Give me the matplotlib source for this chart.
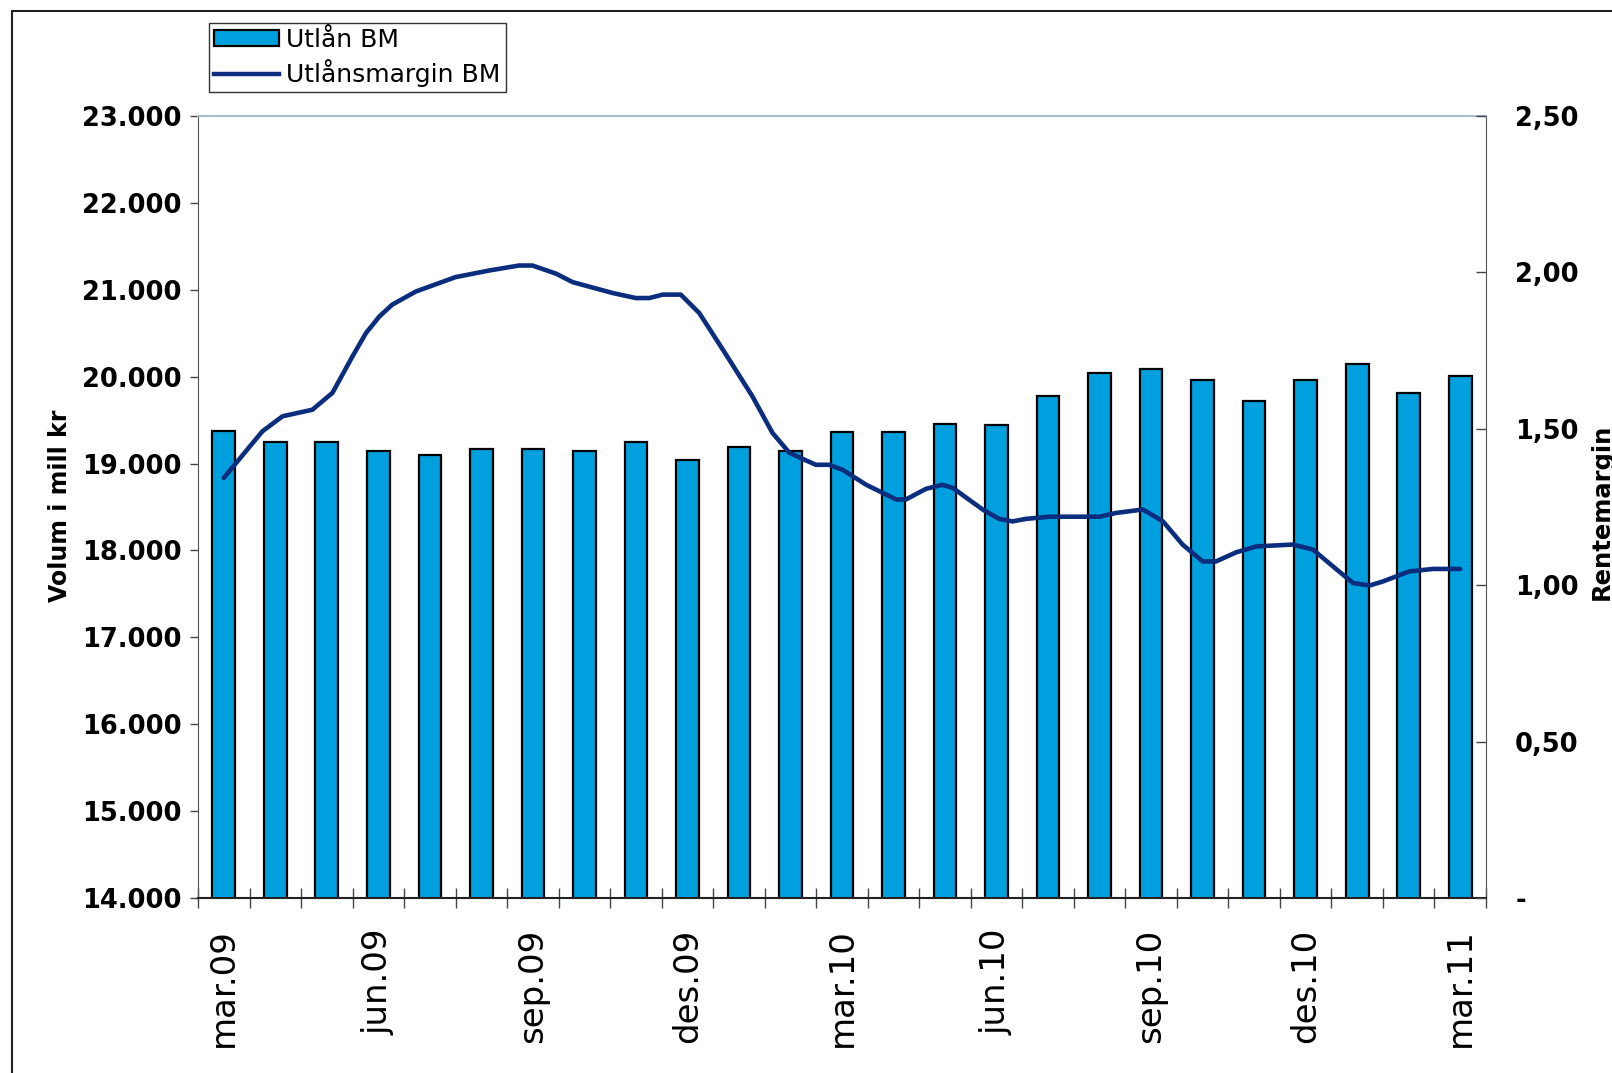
import matplotlib
matplotlib.use("Agg")
import matplotlib.pyplot as plt
import numpy as np
from matplotlib.patches import Rectangle
from matplotlib.lines import Line2D

months = ["mar.09", "apr.09", "mai.09", "jun.09", "jul.09", "aug.09", "sep.09", "okt.09",
          "nov.09", "des.09", "jan.10", "feb.10", "mar.10", "apr.10", "mai.10", "jun.10",
          "jul.10", "aug.10", "sep.10", "okt.10", "nov.10", "des.10", "jan.11", "feb.11", "mar.11"]
utlan = [19380, 19250, 19250, 19150, 19100, 19170, 19170, 19150, 19250, 19040, 19190, 19150,
         19360, 19360, 19460, 19440, 19780, 20040, 20090, 19960, 19720, 19960, 20150, 19810, 20010]
# margin series (position in months from mar.09, value)
margin_pos = [0.00, 0.75, 1.14, 1.72, 2.11, 2.50, 2.76, 3.02, 3.27, 3.73, 4.50, 5.15, 5.73,
              5.99, 6.45, 6.77, 7.55, 8.00, 8.26, 8.52, 8.87, 9.23, 9.75, 10.26, 10.65,
              10.98, 11.49, 11.75, 12.01, 12.47, 13.05, 13.24, 13.63, 13.95, 14.15, 14.73,
              15.05, 15.31, 15.57, 16.03, 17.00, 17.32, 17.84, 18.23, 18.61, 19.00, 19.26,
              19.65, 20.04, 20.75, 21.14, 21.53, 21.92, 22.24, 22.50, 23.01, 23.47, 24.00]
margin = [1.343, 1.492, 1.540, 1.561, 1.615, 1.732, 1.806, 1.859, 1.897, 1.939, 1.985, 2.006,
          2.022, 2.022, 1.996, 1.969, 1.934, 1.918, 1.918, 1.929, 1.929, 1.870, 1.737, 1.604,
          1.487, 1.423, 1.385, 1.385, 1.369, 1.321, 1.274, 1.274, 1.308, 1.321, 1.311, 1.242,
          1.212, 1.204, 1.212, 1.219, 1.219, 1.231, 1.242, 1.204, 1.130, 1.076, 1.076, 1.105,
          1.124, 1.130, 1.114, 1.060, 1.007, 0.999, 1.012, 1.044, 1.052, 1.052]
left_ticks = [14000, 15000, 16000, 17000, 18000, 19000, 20000, 21000, 22000, 23000]
left_labels = ["14.000", "15.000", "16.000", "17.000", "18.000", "19.000", "20.000",
               "21.000", "22.000", "23.000"]
right_ticks = [0, 0.5, 1.0, 1.5, 2.0, 2.5]
right_labels = ["-", "0,50", "1,00", "1,50", "2,00", "2,50"]

W, H = 1612, 1073
fig = plt.figure(figsize=(W / 100, H / 100), dpi=100)
L, R, T, B = 198, 1486, 116, 898
ax = fig.add_axes([L / W, 1 - B / H, (R - L) / W, (B - T) / H])
ax2 = ax.twinx()

x = np.arange(len(months))
bar_color = "#00A0DE"
line_color = "#0B2D7E"
ax.bar(x, utlan, width=0.44, color=bar_color, edgecolor="black", linewidth=1.6, zorder=2)
ax.set_xlim(-0.5, len(months) - 0.5)
ax.set_ylim(14000, 23000)
ax.set_yticks(left_ticks)
ax.set_yticklabels(left_labels, fontsize=18.5, fontweight="bold", family="DejaVu Sans")
ax.tick_params(axis="y", direction="out", length=6, width=1, color="#444444", pad=6)

# x ticks at category boundaries, labels every 3rd month
ax.set_xticks(np.arange(-0.5, len(months), 1.0))
ax.set_xticklabels([])
ax.tick_params(axis="x", which="major", direction="inout", length=14, width=1, color="#444444")
ax.set_xticks(x[::3], minor=True)
ax.set_xticklabels([months[i] for i in x[::3]], minor=True, rotation=90, fontsize=24.5,
                   family="DejaVu Sans")
ax.tick_params(axis="x", which="minor", length=0, pad=22)

ax.spines["top"].set_color("#A8BCC8")
ax.spines["top"].set_linewidth(1.5)
ax.spines["left"].set_color("#555555")
ax.spines["right"].set_color("#555555")
ax.spines["bottom"].set_color("#222222")
ax.spines["bottom"].set_linewidth(1.5)

ax2.plot(margin_pos, margin, color=line_color, linewidth=3.3, zorder=5,
         solid_joinstyle="round", solid_capstyle="round")
ax2.set_ylim(0, 2.5)
ax2.set_yticks(right_ticks)
ax2.set_yticklabels(right_labels, fontsize=18.5, fontweight="bold", family="DejaVu Sans")
ax2.tick_params(axis="y", direction="in", length=7, width=1, color="#444444", pad=21)
for s in ax2.spines.values():
    s.set_visible(False)

fig.text(60 / W, 1 - 506 / H, "Volum i mill kr", rotation=90, ha="center", va="center",
         fontsize=17, fontweight="bold", family="DejaVu Sans")
fig.text(1590 / W, 1 - 512 / H, "Rentemargin", rotation=90, ha="left", va="center",
         fontsize=17.5, fontweight="bold", family="DejaVu Sans")

# outer frame
fig.add_artist(Rectangle((12 / W, -0.05), 1.2, 1 - 11 / H + 0.05, transform=fig.transFigure,
                         fill=False, edgecolor="#222222", linewidth=1.5))

handles = [Rectangle((0, 0), 1, 1, facecolor=bar_color, edgecolor="black", linewidth=1.6),
           Line2D([0], [0], color=line_color, linewidth=3.2)]
leg = fig.legend(handles, ["Utlån BM", "Utlånsmargin BM"], loc="upper left",
                 bbox_to_anchor=(209 / W, 1 - 23 / H), bbox_transform=fig.transFigure,
                 fancybox=False, framealpha=1, edgecolor="#333333", borderaxespad=0,
                 prop={"size": 18, "family": "DejaVu Sans"},
                 handlelength=2.6, handleheight=0.6, handletextpad=0.3, borderpad=0.2,
                 labelspacing=0.3)
leg.get_frame().set_linewidth(1.0)

fig.savefig("out.png", dpi=100)
